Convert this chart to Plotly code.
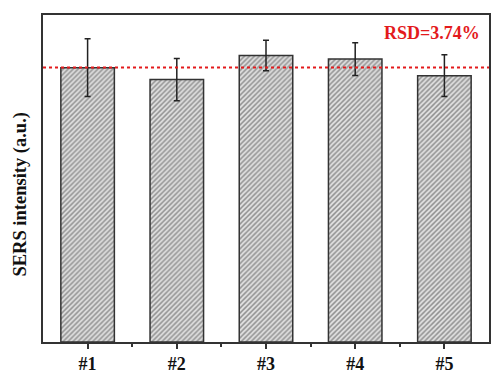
import plotly.graph_objects as go
import numpy as np

categories = ["#1", "#2", "#3", "#4", "#5"]
intensity = [2760, 2640, 2883, 2847, 2680]
errors = [290, 212, 153, 165, 210]
rsd_label = "RSD=3.74%"

x = list(range(1, len(categories) + 1))
mean_val = float(np.mean(intensity))

fig = go.Figure()
fig.add_trace(go.Bar(
    x=x, y=intensity, width=0.6,
    marker=dict(
        color="#e0e0e0",
        line=dict(color="#333333", width=1.5),
        pattern=dict(shape="/", size=3.5, solidity=0.45, fgcolor="#444444", bgcolor="#e0e0e0"),
    ),
    error_y=dict(type="data", array=errors, visible=True, color="#222222", thickness=1.5, width=3),
    showlegend=False,
))

fig.add_shape(type="line", xref="paper", yref="y", x0=0, x1=1, y0=mean_val, y1=mean_val,
              line=dict(color="#e31a1c", width=2, dash="3px,3px"))

fig.add_annotation(xref="paper", yref="paper", x=0.985, y=0.945, xanchor="right", yanchor="middle",
                   text="<b>" + rsd_label + "</b>", showarrow=False,
                   font=dict(family="Liberation Serif", size=18, color="#e31a1c"))

fig.add_annotation(xref="paper", yref="paper", x=-0.05, y=0.45, xanchor="center", yanchor="middle",
                   text="<b>SERS intensity (a.u.)</b>", textangle=-90, showarrow=False,
                   font=dict(family="Liberation Serif", size=18.5, color="#111111"))

fig.update_xaxes(
    range=[0.5, 5.5], tickmode="array", tickvals=x, ticktext=["<b>%s</b>" % c for c in categories],
    ticks="outside", ticklen=5, tickwidth=1.5, tickcolor="#333333",
    minor=dict(tickmode="array", tickvals=[1.5, 2.5, 3.5, 4.5], ticks="outside", ticklen=3,
               tickwidth=1.5, tickcolor="#333333"),
    showline=True, linecolor="#333333", linewidth=1.5, mirror=True,
    showgrid=False, zeroline=False,
    tickfont=dict(family="Liberation Serif", size=18, color="#111111"),
)
fig.update_yaxes(
    range=[0, 3290], showticklabels=False, ticks="",
    showline=True, linecolor="#333333", linewidth=1.5, mirror=True,
    showgrid=False, zeroline=False,
)

fig.update_layout(
    width=493, height=376,
    margin=dict(l=43, r=2, t=15, b=32),
    plot_bgcolor="white", paper_bgcolor="white",
)

fig.write_html("out.html", config={"displayModeBar": False},
               post_script="document.body.style.margin='0';")
